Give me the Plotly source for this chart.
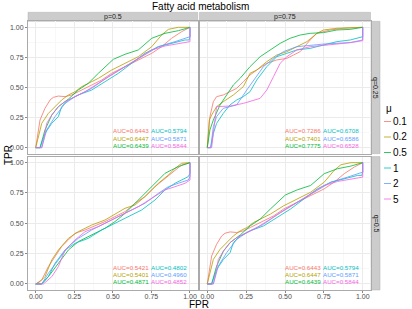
import plotly.graph_objects as go

# ---------------- data ----------------
chart_title = "Fatty acid metabolism"
mu_labels = ["0.1", "0.2", "0.5", "1", "2", "5"]
col_labels = ["p=0.5", "p=0.75"]
row_labels = ["q=0.25", "q=0.5"]
tick_vals = [0, 0.25, 0.5, 0.75, 1]
tick_text = ["0.00", "0.25", "0.50", "0.75", "1.00"]

# Curves for (p=0.5, q=0.25) -- identical to (p=0.75, q=0.5)
a_fpr = [
    [0, 0.028, 0.06, 0.093, 0.114, 0.147, 0.19, 0.233, 0.276, 0.32, 0.363, 0.428, 0.492, 0.557, 0.622, 0.687, 0.752, 0.816, 0.881, 0.946, 1],
    [0, 0.039, 0.082, 0.125, 0.168, 0.212, 0.255, 0.298, 0.341, 0.406, 0.492, 0.579, 0.665, 0.752, 0.816, 0.86, 0.924, 1],
    [0, 0.028, 0.06, 0.104, 0.147, 0.212, 0.276, 0.341, 0.406, 0.471, 0.503, 0.579, 0.665, 0.752, 0.838, 0.924, 1],
    [0, 0.028, 0.06, 0.104, 0.147, 0.168, 0.212, 0.276, 0.363, 0.449, 0.536, 0.622, 0.708, 0.795, 0.881, 0.968, 0.994, 1, 1],
    [0, 0.039, 0.071, 0.125, 0.19, 0.255, 0.363, 0.471, 0.579, 0.687, 0.795, 0.903, 1, 1],
    [0, 0.039, 0.06, 0.071, 0.104, 0.147, 0.19, 0.255, 0.32, 0.406, 0.492, 0.579, 0.665, 0.752, 0.838, 0.924, 1, 1],
]
a_tpr = [
    [0, 0.23, 0.327, 0.396, 0.418, 0.429, 0.424, 0.438, 0.465, 0.493, 0.521, 0.562, 0.618, 0.659, 0.701, 0.742, 0.784, 0.839, 0.909, 0.964, 1],
    [0, 0.202, 0.285, 0.341, 0.396, 0.438, 0.465, 0.507, 0.535, 0.576, 0.645, 0.701, 0.756, 0.839, 0.936, 0.983, 1, 1],
    [0, 0, 0.147, 0.271, 0.341, 0.404, 0.479, 0.535, 0.618, 0.701, 0.734, 0.776, 0.812, 0.909, 0.95, 0.972, 1],
    [0, 0, 0.119, 0.202, 0.258, 0.341, 0.396, 0.438, 0.479, 0.548, 0.618, 0.701, 0.784, 0.839, 0.867, 0.895, 0.895, 0.922, 1],
    [0, 0, 0.147, 0.258, 0.368, 0.424, 0.493, 0.59, 0.673, 0.756, 0.839, 0.881, 0.922, 1],
    [0, 0, 0.119, 0.202, 0.271, 0.341, 0.382, 0.424, 0.465, 0.535, 0.604, 0.673, 0.742, 0.812, 0.845, 0.867, 0.881, 1],
]
a_auc = ["0.6443", "0.6447", "0.6439", "0.5794", "0.5871", "0.5844"]

# Curves for (p=0.75, q=0.25)
b_fpr = [
    [0, 0.017, 0.039, 0.06, 0.103, 0.146, 0.189, 0.232, 0.275, 0.318, 0.383, 0.447, 0.512, 0.555, 0.598, 0.662, 0.705, 0.791, 0.877, 1],
    [0, 0.013, 0.028, 0.06, 0.103, 0.168, 0.232, 0.275, 0.318, 0.383, 0.447, 0.512, 0.576, 0.641, 0.705, 0.748, 0.834, 1],
    [0, 0.017, 0.039, 0.082, 0.125, 0.168, 0.211, 0.275, 0.34, 0.404, 0.469, 0.533, 0.598, 0.662, 0.748, 0.834, 0.92, 1],
    [0, 0.022, 0.039, 0.06, 0.103, 0.146, 0.189, 0.232, 0.275, 0.318, 0.383, 0.447, 0.512, 0.576, 0.662, 0.748, 0.834, 0.92, 0.985, 1, 1],
    [0, 0.022, 0.039, 0.06, 0.103, 0.189, 0.254, 0.318, 0.361, 0.426, 0.49, 0.576, 0.662, 0.748, 0.834, 0.92, 1, 1],
    [0, 0.028, 0.039, 0.06, 0.146, 0.232, 0.34, 0.383, 0.426, 0.469, 0.512, 0.576, 0.662, 0.748, 0.834, 0.92, 1, 1],
]
b_tpr = [
    [0, 0.258, 0.382, 0.424, 0.438, 0.465, 0.493, 0.548, 0.604, 0.645, 0.701, 0.729, 0.742, 0.77, 0.798, 0.895, 0.95, 0.978, 0.992, 1],
    [0, 0.23, 0.271, 0.341, 0.382, 0.438, 0.507, 0.618, 0.645, 0.715, 0.77, 0.798, 0.839, 0.881, 0.95, 0.978, 0.992, 1],
    [0, 0.147, 0.23, 0.355, 0.438, 0.521, 0.576, 0.673, 0.756, 0.812, 0.867, 0.909, 0.936, 0.95, 0.956, 0.978, 0.983, 1],
    [0, 0, 0.119, 0.202, 0.285, 0.355, 0.396, 0.424, 0.465, 0.562, 0.673, 0.756, 0.784, 0.812, 0.825, 0.853, 0.881, 0.895, 0.922, 0.922, 1],
    [0, 0, 0.175, 0.258, 0.327, 0.355, 0.479, 0.59, 0.673, 0.742, 0.798, 0.839, 0.853, 0.861, 0.867, 0.873, 0.895, 1],
    [0, 0, 0.119, 0.341, 0.346, 0.368, 0.41, 0.479, 0.59, 0.701, 0.756, 0.812, 0.839, 0.853, 0.861, 0.873, 0.889, 1],
]
b_auc = ["0.7286", "0.7401", "0.7775", "0.6708", "0.6586", "0.6528"]

# Curves for (p=0.5, q=0.5)
c_fpr = [
    [0, 0.039, 0.082, 0.125, 0.168, 0.212, 0.255, 0.32, 0.384, 0.449, 0.514, 0.579, 0.644, 0.708, 0.773, 0.838, 0.903, 0.946, 1],
    [0, 0.028, 0.06, 0.104, 0.147, 0.212, 0.276, 0.363, 0.449, 0.536, 0.579, 0.644, 0.708, 0.795, 0.86, 0.903, 0.946, 1],
    [0, 0.039, 0.082, 0.147, 0.212, 0.276, 0.363, 0.449, 0.514, 0.579, 0.644, 0.708, 0.773, 0.838, 0.881, 0.924, 1],
    [0, 0.039, 0.082, 0.125, 0.19, 0.255, 0.341, 0.428, 0.514, 0.6, 0.687, 0.773, 0.838, 0.903, 0.946, 0.989, 1, 1],
    [0, 0.039, 0.082, 0.147, 0.212, 0.276, 0.363, 0.449, 0.536, 0.622, 0.708, 0.795, 0.86, 0.924, 0.989, 1, 1],
    [0, 0.05, 0.104, 0.147, 0.19, 0.255, 0.32, 0.406, 0.492, 0.579, 0.665, 0.752, 0.838, 0.903, 0.968, 1, 1],
]
c_tpr = [
    [0, 0.033, 0.143, 0.225, 0.308, 0.363, 0.418, 0.445, 0.478, 0.514, 0.555, 0.596, 0.665, 0.72, 0.802, 0.871, 0.94, 0.981, 1],
    [0, 0.019, 0.06, 0.198, 0.28, 0.376, 0.431, 0.486, 0.527, 0.596, 0.624, 0.651, 0.72, 0.83, 0.898, 0.953, 0.995, 1],
    [0, 0, 0.06, 0.17, 0.28, 0.349, 0.404, 0.459, 0.514, 0.582, 0.665, 0.747, 0.83, 0.912, 0.94, 0.967, 1],
    [0, 0, 0.06, 0.17, 0.28, 0.335, 0.376, 0.445, 0.5, 0.555, 0.61, 0.692, 0.775, 0.83, 0.857, 0.885, 0.912, 1],
    [0, 0, 0.088, 0.198, 0.308, 0.376, 0.445, 0.5, 0.555, 0.61, 0.665, 0.747, 0.802, 0.83, 0.857, 0.885, 1],
    [0, 0, 0.06, 0.143, 0.28, 0.363, 0.431, 0.473, 0.527, 0.582, 0.637, 0.706, 0.775, 0.802, 0.83, 0.857, 1],
]
c_auc = ["0.5421", "0.5401", "0.4871", "0.4802", "0.4960", "0.4852"]

# ---------------- style ----------------
colors = ["#F8766D", "#B79F00", "#00BA38", "#00BFC4", "#619CFF", "#F564E3"]
W, H = 412, 309
FONT = "Liberation Sans, Arial, sans-serif"
TXT = "#4D4D4D"

def px_x(x):
    return x / W

def px_y(y):
    return 1 - y / H

col_dom = [(28.0, 197.7), (199.5, 370.5)]
row_dom = [(21.3, 153.7), (156.6, 290.0)]

panels = [  # (row, col, fpr, tpr, auc)
    (0, 0, a_fpr, a_tpr, a_auc),
    (0, 1, b_fpr, b_tpr, b_auc),
    (1, 0, c_fpr, c_tpr, c_auc),
    (1, 1, a_fpr, a_tpr, a_auc),
]

fig = go.Figure()
layout = {}
annotations = []
shapes = []

for k, (r, c, fpr, tpr, auc) in enumerate(panels):
    idx = "" if k == 0 else str(k + 1)
    xa, ya = "x" + idx, "y" + idx
    for i in range(len(mu_labels)):
        fig.add_trace(go.Scatter(
            x=fpr[i], y=tpr[i], mode="lines", name=mu_labels[i],
            line=dict(color=colors[i], width=1), opacity=0.8,
            xaxis=xa, yaxis=ya, showlegend=False, hoverinfo="skip"))
    common = dict(
        range=[-0.05, 1.05], tickvals=tick_vals, ticktext=tick_text,
        showgrid=True, gridcolor="#EBEBEB", gridwidth=1,
        minor=dict(showgrid=True, gridcolor="#F8F8F8", dtick=0.125, tick0=0.125),
        zeroline=False, showline=True, mirror=True, linecolor="#AAAAAA", linewidth=1,
        tickfont=dict(family=FONT, size=7, color=TXT), fixedrange=True)
    layout["xaxis" + idx] = dict(
        common, domain=[px_x(col_dom[c][0]), px_x(col_dom[c][1])], anchor=ya,
        showticklabels=(r == 1), ticks="outside" if r == 1 else "",
        ticklen=2, tickcolor="#888888", ticklabelstandoff=-2)
    layout["yaxis" + idx] = dict(
        common, domain=[px_y(row_dom[r][1]), px_y(row_dom[r][0])], anchor=xa,
        showticklabels=(c == 0), ticks="outside" if c == 0 else "",
        ticklen=2, tickcolor="#888888")
    # AUC labels (right-aligned columns)
    for i in range(len(mu_labels)):
        colx = 0.741 if i < 3 else 0.984
        rowy = [0.139, 0.078, 0.017][i % 3]
        annotations.append(dict(
            x=colx, y=rowy, xref=xa, yref=ya, xanchor="right", yanchor="middle",
            text="AUC=" + auc[i], showarrow=False, borderpad=0,
            font=dict(family=FONT, size=6.2, color=colors[i])))

# strips
for c in range(2):
    x0, x1 = col_dom[c]
    shapes.append(dict(type="rect", xref="paper", yref="paper",
                       x0=px_x(x0), x1=px_x(x1), y0=px_y(21.3), y1=px_y(12.3),
                       fillcolor="#CCCCCC", line=dict(color="#B3B3B3", width=0.5), layer="below"))
    annotations.append(dict(x=px_x((x0 + x1) / 2), y=px_y(16.8), xref="paper", yref="paper",
                            text=col_labels[c], showarrow=False, xanchor="center", yanchor="middle",
                            font=dict(family=FONT, size=7, color="#1A1A1A")))
for r in range(2):
    y0, y1 = row_dom[r]
    shapes.append(dict(type="rect", xref="paper", yref="paper",
                       x0=px_x(371.0), x1=px_x(380.0), y0=px_y(y1), y1=px_y(y0),
                       fillcolor="#CCCCCC", line=dict(color="#B3B3B3", width=0.5), layer="below"))
    annotations.append(dict(x=px_x(375.5), y=px_y((y0 + y1) / 2), xref="paper", yref="paper",
                            text=row_labels[r], showarrow=False, textangle=90,
                            xanchor="center", yanchor="middle",
                            font=dict(family=FONT, size=7, color="#1A1A1A")))

# axis titles and main title
annotations.append(dict(x=px_x(199), y=px_y(304.5), xref="paper", yref="paper", text="FPR",
                        showarrow=False, xanchor="center", yanchor="middle", borderpad=0,
                        font=dict(family=FONT, size=10, color="#000000")))
annotations.append(dict(x=px_x(8), y=px_y(155), xref="paper", yref="paper", text="TPR",
                        showarrow=False, textangle=-90, xanchor="center", yanchor="middle",
                        font=dict(family=FONT, size=10, color="#000000")))
annotations.append(dict(x=px_x(200), y=px_y(6.5), xref="paper", yref="paper", text=chart_title,
                        showarrow=False, xanchor="center", yanchor="middle",
                        font=dict(family=FONT, size=10, color="#000000")))

# legend (drawn manually)
annotations.append(dict(x=px_x(384), y=px_y(108), xref="paper", yref="paper", text="μ",
                        showarrow=False, xanchor="left", yanchor="middle",
                        font=dict(family=FONT, size=10, color="#000000")))
for i, lab in enumerate(mu_labels):
    yy = 121.5 + i * 15.5
    shapes.append(dict(type="line", xref="paper", yref="paper",
                       x0=px_x(384), x1=px_x(391), y0=px_y(yy), y1=px_y(yy),
                       line=dict(color=colors[i], width=1), opacity=0.8))
    annotations.append(dict(x=px_x(391), y=px_y(yy), xref="paper", yref="paper", text=lab,
                            showarrow=False, xanchor="left", yanchor="middle",
                            font=dict(family=FONT, size=10, color="#000000")))

fig.update_layout(
    width=W, height=H, margin=dict(l=0, r=0, t=0, b=0),
    paper_bgcolor="white", plot_bgcolor="white",
    showlegend=False, annotations=annotations, shapes=shapes, **layout)

fig.write_html("out.html", config={"displayModeBar": False},
               post_script="document.body.style.margin='0';document.body.style.padding='0';")
